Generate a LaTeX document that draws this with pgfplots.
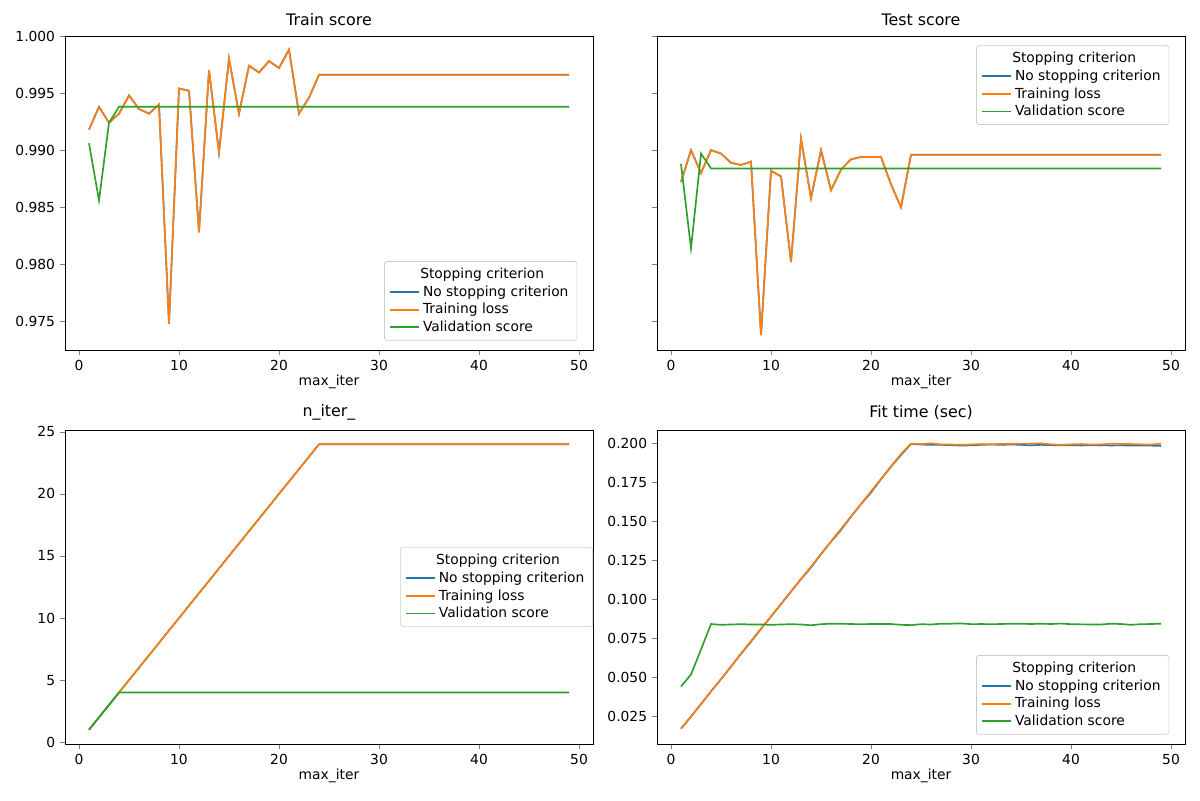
\documentclass[border=0pt]{standalone}
\usepackage{pgfplots}
\pgfplotsset{compat=1.18}
\usepackage{pgfplotstable}
\usepackage{fontspec}
\setmainfont{DejaVu Sans}
\definecolor{c0}{HTML}{1F77B4}
\definecolor{c1}{HTML}{FF7F0E}
\definecolor{c2}{HTML}{2CA02C}
\pgfplotstableread{
x a c
1 0.9918 0.9906
2 0.9938 0.9856
3 0.9924 0.9924
4 0.9932 0.9938
5 0.9948 0.9938
6 0.9936 0.9938
7 0.9932 0.9938
8 0.9940 0.9938
9 0.9748 0.9938
10 0.9954 0.9938
11 0.9952 0.9938
12 0.9828 0.9938
13 0.9970 0.9938
14 0.9898 0.9938
15 0.9980 0.9938
16 0.9932 0.9938
17 0.9974 0.9938
18 0.9968 0.9938
19 0.9978 0.9938
20 0.9972 0.9938
21 0.9988 0.9938
22 0.9932 0.9938
23 0.9946 0.9938
24 0.9966 0.9938
49 0.9966 0.9938
}\train
\pgfplotstableread{
x a c
1 0.9872 0.9888
2 0.9900 0.9814
3 0.9880 0.9897
4 0.9900 0.9884
5 0.9897 0.9884
6 0.9889 0.9884
7 0.9887 0.9884
8 0.9890 0.9884
9 0.9738 0.9884
10 0.9882 0.9884
11 0.9877 0.9884
12 0.9802 0.9884
13 0.9910 0.9884
14 0.9858 0.9884
15 0.9900 0.9884
16 0.9865 0.9884
17 0.9883 0.9884
18 0.9892 0.9884
19 0.9894 0.9884
20 0.9894 0.9884
21 0.9894 0.9884
22 0.9870 0.9884
23 0.9850 0.9884
24 0.9896 0.9884
49 0.9896 0.9884
}\test
\pgfplotstableread{
x a c
1 1 1
2 2 2
3 3 3
4 4 4
24 24 4
49 24 4
}\niter
\pgfplotstableread{
x a b c
1 0.0173 0.0173 0.0443
2 0.0250 0.0252 0.0520
3 0.0330 0.0332 0.0680
4 0.0412 0.0412 0.0843
5 0.0490 0.0490 0.0838
6 0.0570 0.0572 0.0840
7 0.0652 0.0654 0.0842
8 0.0730 0.0734 0.0840
9 0.0812 0.0814 0.0840
10 0.0890 0.0892 0.0838
11 0.0970 0.0972 0.0840
12 0.1050 0.1052 0.0842
13 0.1130 0.1132 0.0840
14 0.1205 0.1210 0.0835
15 0.1290 0.1292 0.0842
16 0.1370 0.1372 0.0845
17 0.1445 0.1452 0.0845
18 0.1530 0.1532 0.0843
19 0.1610 0.1612 0.0842
20 0.1685 0.1692 0.0843
21 0.1770 0.1772 0.0843
22 0.1850 0.1852 0.0843
23 0.1925 0.1932 0.0838
24 0.1995 0.1998 0.0836
25 0.1992 0.1995 0.0842
26 0.1990 0.2000 0.0840
27 0.1990 0.1993 0.0845
28 0.1988 0.1992 0.0845
29 0.1985 0.1990 0.0847
30 0.1987 0.1992 0.0842
31 0.1990 0.1995 0.0843
32 0.1992 0.1993 0.0842
33 0.1990 0.1996 0.0843
34 0.1992 0.1997 0.0845
35 0.1990 0.1998 0.0845
36 0.1987 0.1998 0.0843
37 0.1990 0.2000 0.0845
38 0.1988 0.1993 0.0843
39 0.1987 0.1990 0.0846
40 0.1988 0.1993 0.0842
41 0.1986 0.1995 0.0841
42 0.1988 0.1992 0.0840
43 0.1987 0.1993 0.0840
44 0.1986 0.1997 0.0845
45 0.1987 0.1996 0.0843
46 0.1985 0.1995 0.0838
47 0.1986 0.1993 0.0842
48 0.1985 0.1992 0.0843
49 0.1983 0.1997 0.0845
}\fit
\begin{document}
\fontsize{8.3}{10}\selectfont
\begin{tikzpicture}
\path[use as bounding box] (0pt,0pt) rectangle (720pt,480pt);
\pgfplotsset{
  every axis/.append style={
    scale only axis, width=316.8pt, height=188.4pt, anchor=south west,
    xmin=-1.4, xmax=51.4, xtick={0,10,...,50},
    xlabel={max\_iter},
    /pgf/number format/assume math mode=true,
    tick label style={font=\fontsize{8.3}{10}\selectfont},
    label style={font=\fontsize{8.3}{10}\selectfont},
    title style={font=\fontsize{9.5}{11}\selectfont, yshift=-3pt},
    xlabel style={yshift=3pt},
    legend style={font=\fontsize{8.3}{10}\selectfont, draw=black!20, rounded corners=1pt, cells={anchor=west}, row sep=-1pt},
    legend cell align=left,
    tick align=outside, tick pos=left,
    major tick length=3pt,
  },
  ytf/.style={yticklabel style={/pgf/number format/.cd,fixed,fixed zerofill,precision=3}},
  lc0/.style={c0, line width=1pt, no marks},
  lc1/.style={c1, line width=1pt, no marks},
  lc2/.style={c2, line width=1pt, no marks},
}
\begin{axis}[at={(39pt,270pt)}, title={Train score}, ymin=0.9725, ymax=1.0, ytick={0.975,0.98,...,1.0}, ytf, legend pos=south east]
\addlegendimage{empty legend}\addlegendentry{\hspace{-1.2em}\quad Stopping criterion}
\addplot[lc0] table[x=x,y=a]{\train};\addlegendentry{No stopping criterion}
\addplot[lc1] table[x=x,y=a]{\train};\addlegendentry{Training loss}
\addplot[lc2] table[x=x,y=c]{\train};\addlegendentry{Validation score}
\end{axis}
\begin{axis}[at={(394.2pt,270pt)}, title={Test score}, ymin=0.9725, ymax=1.0, ytick={0.975,0.98,...,1.0}, yticklabels={}, legend pos=north east]
\addlegendimage{empty legend}\addlegendentry{\hspace{-1.2em}\quad Stopping criterion}
\addplot[lc0] table[x=x,y=a]{\test};\addlegendentry{No stopping criterion}
\addplot[lc1] table[x=x,y=a]{\test};\addlegendentry{Training loss}
\addplot[lc2] table[x=x,y=c]{\test};\addlegendentry{Validation score}
\end{axis}
\begin{axis}[at={(39pt,33.6pt)}, title={n\_iter\_}, ymin=-0.15, ymax=25.15, ytick={0,5,...,25}, legend style={at={(1,0.5)},anchor=east}]
\addlegendimage{empty legend}\addlegendentry{\hspace{-1.2em}\quad Stopping criterion}
\addplot[lc0] table[x=x,y=a]{\niter};\addlegendentry{No stopping criterion}
\addplot[lc1] table[x=x,y=a]{\niter};\addlegendentry{Training loss}
\addplot[lc2] table[x=x,y=c]{\niter};\addlegendentry{Validation score}
\end{axis}
\begin{axis}[at={(394.2pt,33.6pt)}, title={Fit time (sec)}, ymin=0.0075, ymax=0.2085, ytick={0.025,0.05,...,0.2}, ytf, legend pos=south east]
\addlegendimage{empty legend}\addlegendentry{\hspace{-1.2em}\quad Stopping criterion}
\addplot[lc0] table[x=x,y=a]{\fit};\addlegendentry{No stopping criterion}
\addplot[lc1] table[x=x,y=b]{\fit};\addlegendentry{Training loss}
\addplot[lc2] table[x=x,y=c]{\fit};\addlegendentry{Validation score}
\end{axis}
\end{tikzpicture}
\end{document}
